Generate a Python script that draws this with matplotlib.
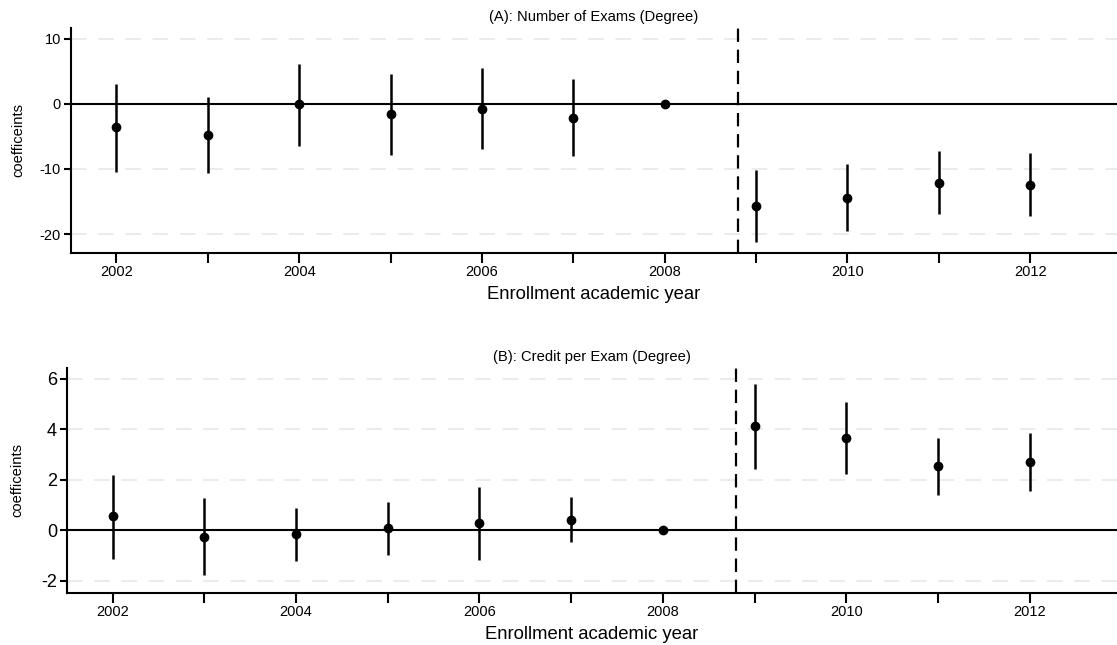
import matplotlib
matplotlib.use("Agg")
import matplotlib.pyplot as plt

plt.rcParams['font.family'] = ['Liberation Sans', 'DejaVu Sans']

years = [2002, 2003, 2004, 2005, 2006, 2007, 2008, 2009, 2010, 2011, 2012]
tick_labels = ["2002", "", "2004", "", "2006", "", "2008", "", "2010", "", "2012"]

# Panel A: number of exams
exams_coef = [-3.62, -4.80, -0.10, -1.58, -0.77, -2.15, 0.0, -15.64, -14.40, -12.12, -12.42]
exams_hi = [2.97, 1.03, 6.09, 4.55, 5.47, 3.74, 0.0, -10.17, -9.25, -7.25, -7.56]
exams_lo = [-10.48, -10.63, -6.49, -7.87, -6.95, -7.97, 0.0, -21.20, -19.48, -16.87, -17.18]

# Panel B: credit per exam
credit_coef = [0.55, -0.26, -0.17, 0.08, 0.28, 0.41, 0.0, 4.11, 3.64, 2.53, 2.68]
credit_hi = [2.18, 1.27, 0.87, 1.11, 1.70, 1.31, 0.0, 5.79, 5.07, 3.64, 3.84]
credit_lo = [-1.15, -1.78, -1.21, -0.98, -1.19, -0.49, 0.0, 2.43, 2.23, 1.40, 1.56]

reform_year = 2008.8

W, H = 1117, 645
fig = plt.figure(figsize=(W / 100, H / 100), dpi=100)


def px_axes(left, top, right, bottom):
    return fig.add_axes([left / W, 1 - bottom / H, (right - left) / W, (bottom - top) / H])


def panel(ax, coef, lo, hi, title, ylim, yticks, ytick_size, ylabelpad):
    ax.set_xlim(2001.5, 2012.95)
    ax.set_ylim(*ylim)
    ax.set_yticks(yticks)
    ax.set_yticklabels([str(t) for t in yticks], fontsize=ytick_size)
    for t in yticks:
        ax.axhline(t, color="#ebebeb", lw=1.4, dashes=(8, 6), zorder=0)
    ax.axhline(0, color="black", lw=1.5, zorder=1)
    ax.axvline(reform_year, color="black", lw=1.6, dashes=(6, 3.5), zorder=1)
    ax.vlines(years, lo, hi, color="black", lw=1.8, zorder=2)
    ax.plot(years, coef, "o", color="black", ms=6, zorder=3)
    ax.set_xticks(years)
    ax.set_xticklabels(tick_labels, fontsize=10.5)
    ax.tick_params(axis="x", length=7, width=1.5, pad=2)
    ax.tick_params(axis="y", length=5, width=1.5, pad=2)
    for s in ("top", "right"):
        ax.spines[s].set_visible(False)
    for s in ("left", "bottom"):
        ax.spines[s].set_linewidth(1.5)
    ax.set_title(title, fontsize=10.6, pad=5)
    ax.set_xlabel("Enrollment academic year", fontsize=13.3, labelpad=5)
    ax.set_ylabel("coefficeints", fontsize=10.6, labelpad=ylabelpad)


ax1 = px_axes(70.7, 27.7, 1117, 252.7)
panel(ax1, exams_coef, exams_lo, exams_hi, "(A): Number of Exams (Degree)",
      (-22.85, 11.66), [-20, -10, 0, 10], 10.5, 10)

ax2 = px_axes(66.7, 367.7, 1117, 592.7)
panel(ax2, credit_coef, credit_lo, credit_hi, "(B): Credit per Exam (Degree)",
      (-2.48, 6.43), [-2, 0, 2, 4, 6], 13, 12)

fig.savefig("out.png", dpi=100)
